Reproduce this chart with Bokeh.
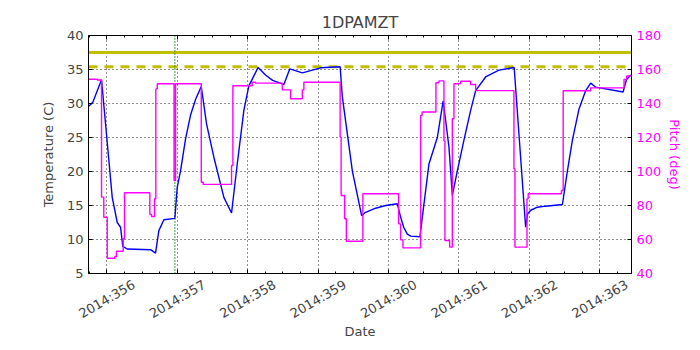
import math
from bokeh.plotting import figure
from bokeh.models import (Range1d, LinearAxis, FixedTicker, Span, CustomLabelingPolicy)
from bokeh.embed import file_html
from bokeh.resources import INLINE

# ---------------- data ----------------
temp_day = [355.744, 355.801, 355.925, 356.077, 356.148, 356.195, 356.227, 356.290,
            356.621, 356.692, 356.739, 356.810, 356.966, 357.000, 357.047, 357.118,
            357.189, 357.260, 357.341, 357.416, 357.520, 357.662, 357.771, 357.852,
            357.946, 358.017, 358.148, 358.254, 358.354, 358.514, 358.599, 358.776,
            359.036, 359.313, 359.344, 359.486, 359.618, 359.675, 359.817, 359.959,
            360.125, 360.172, 360.215, 360.267, 360.314, 360.446, 360.480, 360.574,
            360.693, 360.776, 360.858, 360.906, 360.977, 361.071, 361.166, 361.237,
            361.379, 361.568, 361.784, 361.947, 361.976, 362.019, 362.114, 362.232,
            362.469, 362.540, 362.611, 362.705, 362.800, 362.871, 362.942, 363.330,
            363.378, 363.439]
temp_val = [29.6, 30.2, 33.5, 16.2, 12.5, 11.8, 9.0, 8.6,
            8.5, 8.0, 11.3, 12.9, 13.1, 17.7, 20.1, 24.8,
            28.3, 30.6, 32.5, 27.0, 22.1, 16.2, 13.9, 21.1,
            29.0, 32.6, 35.3, 34.2, 33.4, 32.8, 35.1, 34.5,
            35.25, 35.4, 31.0, 20.1, 13.5, 14.0, 14.6, 15.0,
            15.25, 13.3, 11.8, 10.8, 10.5, 10.4, 13.3, 21.1,
            25.0, 30.4, 23.6, 16.5, 20.1, 24.6, 29.0, 31.9,
            33.9, 34.9, 35.3, 11.8, 13.8, 14.3, 14.75, 14.9,
            15.15, 20.1, 24.6, 29.2, 31.9, 33.0, 32.4, 31.7,
            33.5, 34.2]

pitch_day = [355.744, 355.864, 355.925, 355.957, 356.006, 356.114, 356.138, 356.233,
             356.251, 356.611, 356.635, 356.678, 356.696, 356.716, 356.955, 356.976,
             357.341, 357.369, 357.771, 357.790, 358.065, 358.112, 358.491, 358.609,
             358.776, 358.798, 359.313, 359.327, 359.376, 359.401, 359.636, 360.143,
             360.172, 360.205, 360.456, 360.477, 360.673, 360.716, 360.787, 360.801,
             360.868, 360.906, 360.929, 361.024, 361.166, 361.237, 361.781, 361.795,
             361.966, 361.983, 362.455, 362.480, 362.871, 363.344, 363.382, 363.451]
pitch_val = [154.3, 153.8, 84.9, 73.1, 49.0, 50.0, 53.1, 60.4,
             87.5, 74.8, 73.5, 84.0, 148.6, 151.6, 94.7, 151.6,
             93.7, 92.4, 103.5, 150.4, 152.5, 152.0, 148.0, 142.8,
             148.0, 152.5, 120.2, 85.9, 72.2, 59.0, 86.9, 69.2,
             59.8, 55.1, 133.0, 135.0, 152.2, 153.3, 118.0, 59.4,
             55.5, 131.0, 151.6, 153.1, 151.2, 147.6, 101.6, 55.5,
             83.9, 86.9, 88.8, 147.5, 149.2, 154.2, 156.2, 156.2]

day_ticks = [356, 357, 358, 359, 360, 361, 362, 363]
day_labels = ["2014:356", "2014:357", "2014:358", "2014:359",
              "2014:360", "2014:361", "2014:362", "2014:363"]
temp_ticks = [5, 10, 15, 20, 25, 30, 35, 40]
pitch_ticks = [40, 60, 80, 100, 120, 140, 160, 180]
yellow_limit = 37.5
planning_limit = 35.4
marker_day = 356.966
day_start, day_end = 355.74, 363.45
temp_min, temp_max = 5, 40
pitch_min, pitch_max = 40, 180

FONT = "DejaVu Sans"
MAGENTA = "#ff00ff"
OLIVE = "#bfbf00"
LABEL_SHIFT = 0.385   # moves the right-aligned rotated labels so they are centred on ticks

minor = [d + q for d in [math.floor(day_start)] + day_ticks for q in (0.25, 0.5, 0.75)
         if day_start <= d + q <= day_end]

p = figure(width=700, height=350, output_backend="svg", toolbar_location=None,
           x_range=Range1d(day_start, day_end), y_range=Range1d(temp_min, temp_max),
           title="1DPAMZT", min_border_left=88, min_border_right=69,
           min_border_top=35, min_border_bottom=77)
p.background_fill_color = "white"
p.border_fill_color = "white"
p.outline_line_color = "black"
p.outline_line_width = 1

p.title.align = "center"
p.title.text_font = FONT
p.title.text_font_size = "16px"
p.title.text_font_style = "normal"
p.title.standoff = 7

xt = FixedTicker(ticks=day_ticks, minor_ticks=minor)
yt = FixedTicker(ticks=temp_ticks, minor_ticks=[])

def style_axis(ax):
    ax.axis_line_color = "black"
    ax.major_tick_in = 4
    ax.major_tick_out = 0
    ax.minor_tick_in = 2
    ax.minor_tick_out = 0
    ax.major_tick_line_color = "black"
    ax.minor_tick_line_color = "black"
    ax.major_label_text_font = FONT
    ax.major_label_text_font_size = "13px"
    ax.axis_label_text_font = FONT
    ax.axis_label_text_font_size = "13px"
    ax.axis_label_text_font_style = "normal"

def hide_labels(ax):
    ax.major_label_policy = CustomLabelingPolicy(code="for (const i of indices) indices.unset(i)")
    ax.major_label_text_font_size = "0px"
    ax.major_label_standoff = 0

# bottom spine with ticks (no labels)
xa = p.xaxis[0]
xa.ticker = xt
style_axis(xa)
hide_labels(xa)

# rotated date labels, centred on the ticks
p.extra_x_ranges = {"labels": Range1d(day_start - LABEL_SHIFT, day_end - LABEL_SHIFT)}
la = LinearAxis(x_range_name="labels", ticker=FixedTicker(ticks=day_ticks, minor_ticks=[]),
                major_label_overrides={t: s for t, s in zip(day_ticks, day_labels)})
style_axis(la)
la.axis_line_color = None
la.major_tick_line_color = None
la.minor_tick_line_color = None
la.major_label_orientation = math.pi / 6
la.major_label_standoff = 10
la.axis_label = "Date"
la.axis_label_standoff = -7
p.add_layout(la, "below")

ya = p.yaxis[0]
ya.ticker = yt
style_axis(ya)
ya.axis_label = "Temperature (C)"
ya.axis_label_standoff = 8

p.extra_y_ranges = {"pitch": Range1d(pitch_min, pitch_max)}
ra = LinearAxis(y_range_name="pitch", ticker=FixedTicker(ticks=pitch_ticks, minor_ticks=[]),
                axis_label="Pitch (deg)")
style_axis(ra)
ra.major_label_text_color = MAGENTA
ra.axis_label_text_color = MAGENTA
ra.axis_label_standoff = 3
p.add_layout(ra, "right")

ta = LinearAxis(ticker=FixedTicker(ticks=day_ticks, minor_ticks=minor))
style_axis(ta)
hide_labels(ta)
p.add_layout(ta, "above")

p.xgrid.ticker = xt
p.ygrid.ticker = yt
for g in (p.xgrid[0], p.ygrid[0]):
    g.grid_line_color = "black"
    g.grid_line_alpha = 0.85
    g.grid_line_dash = "1 3"
    g.grid_line_width = 1

p.add_layout(Span(location=yellow_limit, dimension="width", line_color=OLIVE,
                  line_width=3, level="underlay"))
p.add_layout(Span(location=planning_limit, dimension="width", line_color=OLIVE,
                  line_width=3, line_dash="9 7", level="underlay"))
p.add_layout(Span(location=marker_day, dimension="height", line_color="green",
                  line_width=1.5, line_dash="1 2", level="underlay"))

p.line(temp_day, temp_val, line_color="blue", line_width=1.4)
p.step(pitch_day, pitch_val, mode="after", line_color=MAGENTA, line_width=1.4,
       y_range_name="pitch")

open("out.html", "w").write(file_html(p, INLINE))
